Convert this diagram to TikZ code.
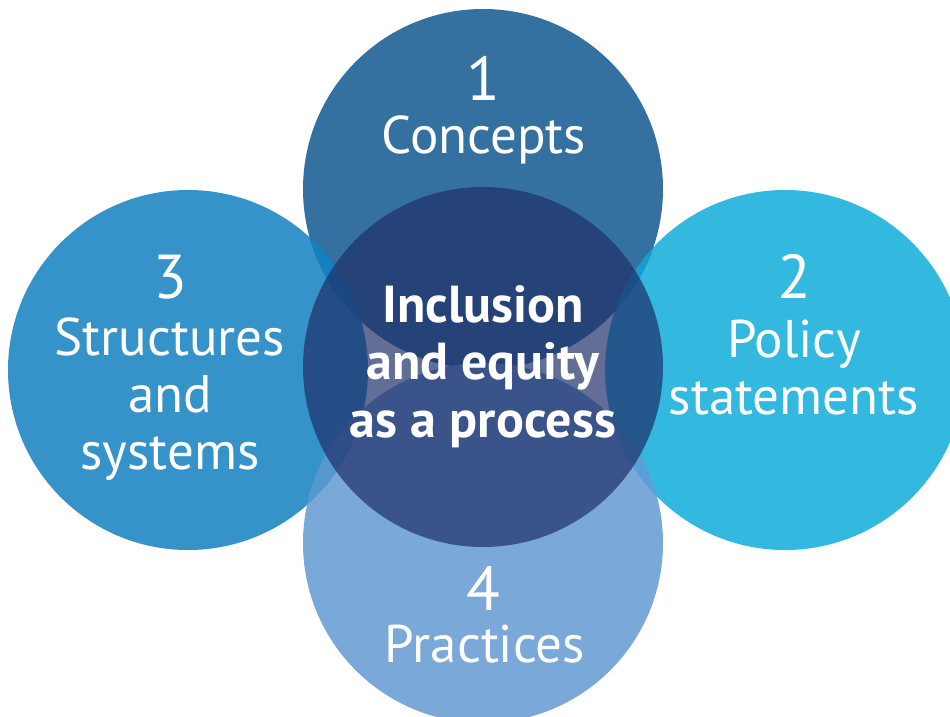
\documentclass[tikz,border=0pt]{standalone}
\usepackage{fontspec}
\setmainfont{PT Sans}
\usepackage{tikz}
\definecolor{conceptblue}{RGB}{52,113,160}
\definecolor{policyblue}{RGB}{51,184,224}
\definecolor{structblue}{RGB}{54,147,202}
\definecolor{practiceblue}{RGB}{122,168,216}
\definecolor{corenavy}{RGB}{31,48,105}
\definecolor{lensTL}{RGB}{20,128,192}
\definecolor{lensTR}{RGB}{26,154,208}
\definecolor{lensBL}{RGB}{85,152,208}
\definecolor{lensBR}{RGB}{85,161,217}
\tikzstyle{bubble} = [circle, draw=none, inner sep=0pt, minimum size=360pt]
\tikzstyle{num} = [text=white, anchor=base, inner sep=0pt, font=\fontsize{62}{62}\selectfont]
\tikzstyle{words} = [text=white, anchor=base, inner sep=0pt, align=center, font=\fontsize{53}{57}\selectfont]
\tikzstyle{core} = [text=white, anchor=base, inner sep=0pt, align=center, font=\bfseries\fontsize{52}{57.5}\selectfont]

\begin{document}
\begin{tikzpicture}[x=1pt,y=-1pt]
\useasboundingbox (0,0) rectangle (950,717);
\clip (0,0) rectangle (950,717);

\node (struct) [bubble, fill=structblue] at (188,370) {};
\node (policy) [bubble, fill=policyblue] at (785,370) {};
\node (concept) [bubble, fill=conceptblue] at (483,189) {};
\node (practice) [bubble, fill=practiceblue] at (483,543) {};

% overlaps of the outer circles
\begin{scope}
    \clip (concept.center) circle (180);
    \fill[lensTL] (struct.center) circle (180);
    \fill[lensTR] (policy.center) circle (180);
\end{scope}
\begin{scope}
    \clip (practice.center) circle (180);
    \fill[lensBL] (struct.center) circle (180);
    \fill[lensBR] (policy.center) circle (180);
\end{scope}

\node (process) [bubble, fill=corenavy, fill opacity=0.7] at (483,367) {};

% multi-line nodes sit on the baseline of their last line
\node (n1) [num] at (483,100) {1};
\node (t1) [words] at (484,153) {Concepts};
\node (n2) [num] at (794,298) {2};
\node (t2) [words] at (794,414) {Policy\\statements};
\node (n3) [num] at (170,298) {3};
\node (t3) [words] at (170,469) {Structures\\and\\systems};
\node (n4) [num] at (483,610) {4};
\node (t4) [words] at (485,662) {Practices};

\node (centre) [core] at (483,437) {Inclusion\\and equity\\as a process};

\end{tikzpicture}
\end{document}
